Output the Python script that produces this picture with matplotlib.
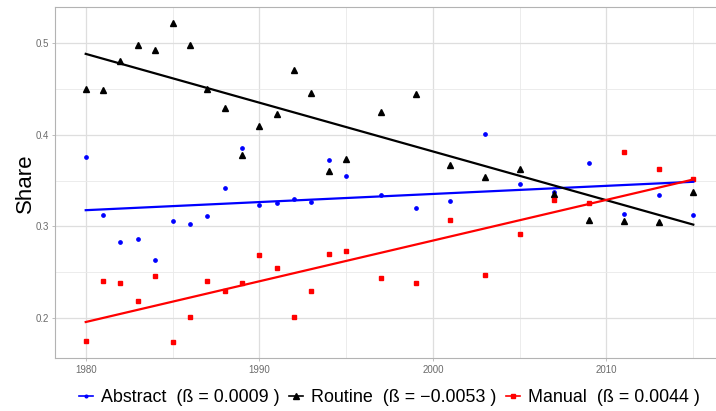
import numpy as np
import matplotlib.pyplot as plt
from matplotlib.lines import Line2D
from matplotlib.ticker import MultipleLocator

plt.rcParams['font.family'] = ['Liberation Sans', 'DejaVu Sans']

years = [1980, 1981, 1982, 1983, 1984, 1985, 1986, 1987, 1988, 1989, 1990, 1991, 1992,
         1993, 1994, 1995, 1997, 1999, 2001, 2003, 2005, 2007, 2009, 2011, 2013, 2015]

abstract = [0.376, 0.313, 0.283, 0.286, 0.263, 0.306, 0.303, 0.311, 0.342, 0.385, 0.323, 0.325, 0.330,
            0.327, 0.372, 0.355, 0.334, 0.320, 0.328, 0.401, 0.346, 0.338, 0.369, 0.314, 0.334, 0.312]
routine = [0.450, 0.448, 0.480, 0.498, 0.492, 0.521, 0.497, 0.450, 0.429, 0.378, 0.409, 0.422, 0.470,
           0.445, 0.360, 0.373, 0.425, 0.444, 0.367, 0.354, 0.363, 0.335, 0.307, 0.306, 0.305, 0.338]
manual = [0.175, 0.241, 0.238, 0.219, 0.246, 0.174, 0.201, 0.241, 0.230, 0.239, 0.269, 0.255, 0.201,
          0.230, 0.270, 0.273, 0.244, 0.238, 0.307, 0.247, 0.292, 0.329, 0.326, 0.381, 0.362, 0.352]

labels = ['Abstract  (ß = 0.0009 )', 'Routine  (ß = \u22120.0053 )', 'Manual  (ß = 0.0044 )']
colors = ['#0000ff', '#000000', '#ff0000']
markers = ['o', '^', 's']
msizes = [2.4, 4.6, 3.3]

fig = plt.figure(figsize=(7.16, 4.11), dpi=100)
ax = fig.add_axes([0.0773, 0.1282, 0.9334, 0.854])

x = np.array(years)
for ys, c, m, ms in zip([abstract, routine, manual], colors, markers, msizes):
    ax.plot(x, ys, linestyle='none', marker=m, color=c, markersize=ms, zorder=3)
    k, b = np.polyfit(x, ys, 1)
    ax.plot([x.min(), x.max()], [k * x.min() + b, k * x.max() + b], color=c, lw=1.6, zorder=4)

ax.set_xlim(1978.25, 2016.75)
ax.set_ylim(0.1565, 0.5385)
ax.xaxis.set_major_locator(MultipleLocator(10))
ax.xaxis.set_minor_locator(MultipleLocator(5))
ax.yaxis.set_minor_locator(MultipleLocator(0.05))
ax.set_yticks([0.2, 0.3, 0.4, 0.5])
ax.set_yticklabels(['0.2', '0.3', '0.4', '0.5'])
ax.grid(which='major', color='#dedede', lw=0.9)
ax.grid(which='minor', color='#e9e9e9', lw=0.6)
ax.set_axisbelow(True)
ax.tick_params(which='major', length=2.5, width=0.6, color='#b3b3b3', labelsize=7,
               labelcolor='#6b6b6b', pad=2)
ax.tick_params(which='minor', length=0)
for s in ax.spines.values():
    s.set_color('#b3b3b3')
    s.set_linewidth(0.8)

ax.set_ylabel('Share', fontsize=16, labelpad=0)

handles = [Line2D([0], [0], color=c, marker=m, markersize=ms * 0.8, lw=1.2)
           for c, m, ms in zip(colors, markers, msizes)]
fig.legend(handles, labels, loc='center', bbox_to_anchor=(0.544, 0.032), ncol=3,
           frameon=False, fontsize=12.9, handlelength=0.75, handletextpad=0.45, columnspacing=0.55)

fig.savefig('out.png', dpi=100)
